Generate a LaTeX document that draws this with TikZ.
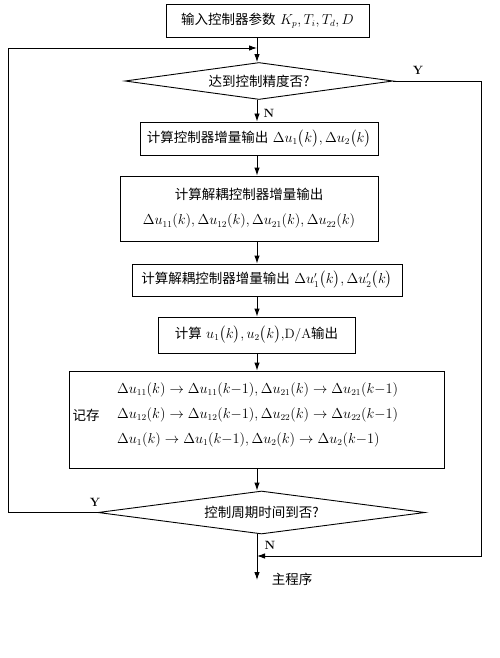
\documentclass[tikz,border=0pt]{standalone}
\usepackage{fontspec}
\usepackage{amsmath}
\newfontfamily\cjk{Noto Sans CJK SC}
\usetikzlibrary{shapes.geometric,arrows.meta,calc}
\begin{document}
\begin{tikzpicture}[x=1pt,y=-1pt,
  box/.style={draw,line width=0.9pt,inner sep=0pt,align=center},
  dia/.style={draw,diamond,line width=0.9pt,inner sep=0pt},
  arr/.style={line width=0.9pt,-{Latex[length=8pt,width=5.5pt]}},
  lab/.style={font=\fontsize{12}{14}\selectfont\bfseries},
  font=\fontsize{13.5}{16}\selectfont]
\useasboundingbox (0,0) rectangle (500,658);
\coordinate (ax) at (257,0);
\coordinate (lt) at (8,48);
\coordinate (rt) at (481,556);
\coordinate (endc) at (257,580);
\node[box,minimum width=203,minimum height=33] (b1) at (267.5,20.5) {{\cjk 输入控制器参数} $K_p,T_i,T_d,D$};
\node[dia,minimum width=268,minimum height=37,aspect=7.2] (d1) at (259,81) {\cjk 达到控制精度否?};
\node[box,minimum width=238,minimum height=33] (b2) at (259,138.5) {{\cjk 计算控制器增量输出} $\Delta u_1\bigl(k\bigr),\Delta u_2\bigl(k\bigr)$};
\node[box,minimum width=258,minimum height=65] (b3) at (249,208.5) {{\cjk 计算解耦控制器增量输出}\\[9pt] $\Delta u_{11}(k),\Delta u_{12}(k),\Delta u_{21}(k),\Delta u_{22}(k)$};
\node[box,minimum width=270,minimum height=32] (b4) at (267,280) {{\cjk 计算解耦控制器增量输出} $\Delta u_1'\bigl(k\bigr),\Delta u_2'\bigl(k\bigr)$};
\node[box,minimum width=197,minimum height=36] (b5) at (256.5,335) {{\cjk 计算} $u_1\bigl(k\bigr),u_2\bigl(k\bigr)$,D/A{\cjk 输出}};
\node[box,minimum width=375,minimum height=97] (b6) at (256.5,419.5) {};
\node (jc) at (86,415) {\cjk 记存};
\node[anchor=west,align=left,inner sep=0pt,font=\fontsize{13.5}{25}\selectfont] (mem) at (117,415) {$\Delta u_{11}(k)\rightarrow\Delta u_{11}(k{-}1),\Delta u_{21}(k)\rightarrow\Delta u_{21}(k{-}1)$\\
$\Delta u_{12}(k)\rightarrow\Delta u_{12}(k{-}1),\Delta u_{22}(k)\rightarrow\Delta u_{22}(k{-}1)$\\
$\Delta u_{1}(k)\rightarrow\Delta u_{1}(k{-}1),\Delta u_{2}(k)\rightarrow\Delta u_{2}(k{-}1)$};
\node[dia,minimum width=327,minimum height=43,aspect=7.6] (d2) at (261.5,512.5) {\cjk 控制周期时间到否?};
\draw[arr] (b1.south -| ax) -- (d1.north -| ax);
\draw[arr] (d1.south -| ax) -- (b2.north -| ax);
\draw[arr] (b2.south -| ax) -- (b3.north -| ax);
\draw[arr] (b3.south -| ax) -- (b4.north -| ax);
\draw[arr] (b4.south -| ax) -- (b5.north -| ax);
\draw[arr] (b5.south -| ax) -- (b6.north -| ax);
\draw[arr] (b6.south -| ax) -- (d2.north -| ax);
\draw[arr] (d2.south -| ax) -- (endc);
\draw[arr] (d1.east) -| (rt) -- (rt -| ax);
\draw[arr] (d2.west) -| (lt) -- (lt -| ax);
\node[lab] (y1) at (418,70) {Y};
\node[lab] (n1) at (269,113) {N};
\node[lab] (y2) at (95,502) {Y};
\node[lab] (n2) at (270,545) {N};
\node (zcx) at (292,579) {\cjk 主程序};
\end{tikzpicture}
\end{document}
